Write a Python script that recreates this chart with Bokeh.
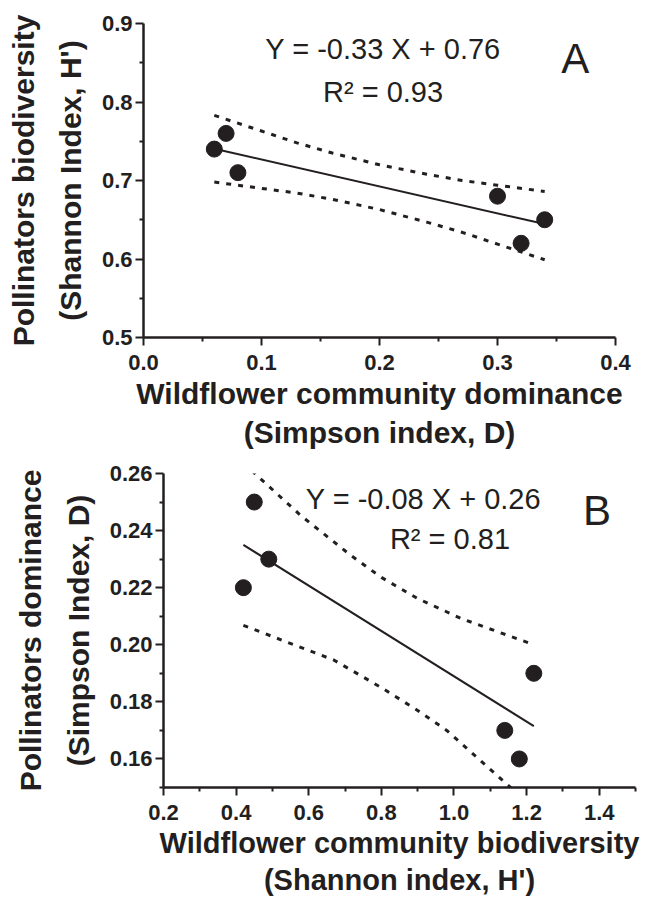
from bokeh.plotting import figure
from bokeh.models import FixedTicker, NumeralTickFormatter, Range1d, Label, Title
from bokeh.embed import file_html
from bokeh.resources import INLINE

FONT = "Liberation Sans"
INK = "#231f20"

# ---------------- Panel A data ----------------
a_x = [0.06, 0.07, 0.08, 0.30, 0.32, 0.34]
a_y = [0.74, 0.76, 0.71, 0.68, 0.62, 0.65]
a_fit_x = [0.06, 0.34]
a_fit_y = [0.7405, 0.6445]
a_upper_x = [0.06, 0.10, 0.13, 0.16, 0.20, 0.24, 0.27, 0.30, 0.34]
a_upper_y = [0.783, 0.763, 0.748, 0.735, 0.720, 0.708, 0.700, 0.694, 0.686]
a_lower_x = [0.06, 0.10, 0.13, 0.16, 0.20, 0.24, 0.27, 0.30, 0.34]
a_lower_y = [0.698, 0.690, 0.684, 0.676, 0.663, 0.647, 0.634, 0.619, 0.599]
a_xticks = [0.0, 0.1, 0.2, 0.3, 0.4]
a_xminor = [0.05, 0.15, 0.25, 0.35]
a_yticks = [0.5, 0.6, 0.7, 0.8, 0.9]
a_yminor = [0.55, 0.65, 0.75, 0.85]
a_xtitle = ["Wildflower community dominance", "(Simpson index, D)"]
a_ytitle = ["Pollinators biodiversity", "(Shannon Index, H')"]
a_eq = "Y = -0.33 X + 0.76"
a_r2 = "R\u00b2 = 0.93"
a_tag = "A"

# ---------------- Panel B data ----------------
b_x = [0.42, 0.45, 0.49, 1.14, 1.18, 1.22]
b_y = [0.22, 0.25, 0.23, 0.17, 0.16, 0.19]
b_fit_x = [0.42, 1.22]
b_fit_y = [0.235, 0.1715]
b_upper_x = [0.42, 0.454, 0.578, 0.716, 0.80, 0.90, 1.02, 1.22]
b_upper_y = [0.264, 0.2597, 0.2453, 0.2313, 0.2236, 0.2162, 0.2092, 0.200]
b_lower_x = [0.42, 0.67, 0.80, 0.90, 0.98, 1.14, 1.22]
b_lower_y = [0.2068, 0.1946, 0.185, 0.177, 0.170, 0.1518, 0.143]
b_xticks = [0.2, 0.4, 0.6, 0.8, 1.0, 1.2, 1.4]
b_xminor = [0.3, 0.5, 0.7, 0.9, 1.1, 1.3, 1.5]
b_yticks = [0.16, 0.18, 0.20, 0.22, 0.24, 0.26]
b_yminor = [0.15, 0.17, 0.19, 0.21, 0.23, 0.25]
b_xtitle = ["Wildflower community biodiversity", "(Shannon index, H')"]
b_ytitle = ["Pollinators dominance", "(Simpson Index, D)"]
b_eq = "Y = -0.08 X + 0.26"
b_r2 = "R\u00b2 = 0.81"
b_tag = "B"


def style_axes(p, xticks, xminor, yticks, yminor, xfmt, yfmt):
    p.xaxis.ticker = FixedTicker(ticks=xticks, minor_ticks=xminor)
    p.yaxis.ticker = FixedTicker(ticks=yticks, minor_ticks=yminor)
    p.xaxis.formatter = NumeralTickFormatter(format=xfmt)
    p.yaxis.formatter = NumeralTickFormatter(format=yfmt)
    p.xgrid.visible = False
    p.ygrid.visible = False
    p.outline_line_color = None
    p.background_fill_color = "white"
    p.border_fill_color = "white"
    for ax in (p.xaxis[0], p.yaxis[0]):
        ax.axis_line_color = INK
        ax.axis_line_width = 2.5
        ax.major_tick_line_color = INK
        ax.major_tick_line_width = 2
        ax.minor_tick_line_color = INK
        ax.minor_tick_line_width = 2
        ax.major_tick_out = 8
        ax.major_tick_in = 0
        ax.minor_tick_out = 4
        ax.minor_tick_in = 0
        ax.major_label_text_font = FONT
        ax.major_label_text_font_style = "bold"
        ax.major_label_text_font_size = "22px"
        ax.major_label_text_color = INK
    p.xaxis.major_label_standoff = 9
    p.yaxis.major_label_standoff = 3


def text_label(p, x, y, txt, size):
    p.add_layout(Label(x=x, y=y, text=txt, text_align="center",
                       text_baseline="middle", text_font=FONT,
                       text_font_size=size, text_color=INK))


def side_title(p, txt, side, standoff, size):
    p.add_layout(Title(text=txt, align="center", text_font=FONT,
                       text_font_size=size, text_font_style="bold",
                       text_color=INK, standoff=standoff, offset=0), side)


def make_panel(width, height, borders, xr, yr, xs, ys, fx, fy, ux, uy, lx, ly,
               xticks, xminor, yticks, yminor, xfmt, yfmt, xtitle, ytitle,
               xst, yst, tsize, eq, r2, tag, eq_pos, r2_pos, tag_pos):
    p = figure(width=width, height=height, x_range=Range1d(*xr), y_range=Range1d(*yr),
               output_backend="svg", toolbar_location=None,
               min_border_left=borders[0], min_border_right=borders[1],
               min_border_top=borders[2], min_border_bottom=borders[3])
    style_axes(p, xticks, xminor, yticks, yminor, xfmt, yfmt)
    p.line(ux, uy, line_color=INK, line_width=3, line_dash="5 7")
    p.line(lx, ly, line_color=INK, line_width=3, line_dash="5 7")
    p.line(fx, fy, line_color=INK, line_width=2)
    p.scatter(xs, ys, size=16, fill_color=INK, line_color=INK)
    text_label(p, eq_pos[0], eq_pos[1], eq, "29px")
    text_label(p, r2_pos[0], r2_pos[1], r2, "29px")
    text_label(p, tag_pos[0], tag_pos[1], tag, "42px")
    # x title: first line nearest the axis
    side_title(p, xtitle[0], "below", xst[0], tsize)
    side_title(p, xtitle[1], "below", xst[1], tsize)
    # y title: second line nearest the axis
    side_title(p, ytitle[1], "left", yst[0], "30px")
    side_title(p, ytitle[0], "left", yst[1], "30px")
    return p


pa = make_panel(646, 459, (143, 31, 23, 122), (0.0, 0.4), (0.5, 0.9),
                a_x, a_y, a_fit_x, a_fit_y, a_upper_x, a_upper_y, a_lower_x, a_lower_y,
                a_xticks, a_xminor, a_yticks, a_yminor, "0.0", "0.0", a_xtitle, a_ytitle,
                (5, 2), (23, 2), "30px",
                a_eq, a_r2, a_tag, (0.203, 0.867), (0.203, 0.813), (0.366, 0.856))

pb = make_panel(646, 441, (163, 11, 14, 113), (0.2, 1.5), (0.15, 0.26),
                b_x, b_y, b_fit_x, b_fit_y, b_upper_x, b_upper_y, b_lower_x, b_lower_y,
                b_xticks, b_xminor, b_yticks, b_yminor, "0.0", "0.00", b_xtitle, b_ytitle,
                (5, 1), (24, 2), "29px",
                b_eq, b_r2, b_tag, (0.916, 0.2509), (0.989, 0.2369), (1.394, 0.247))

open("out.html", "w").write(file_html([pa, pb], INLINE))
